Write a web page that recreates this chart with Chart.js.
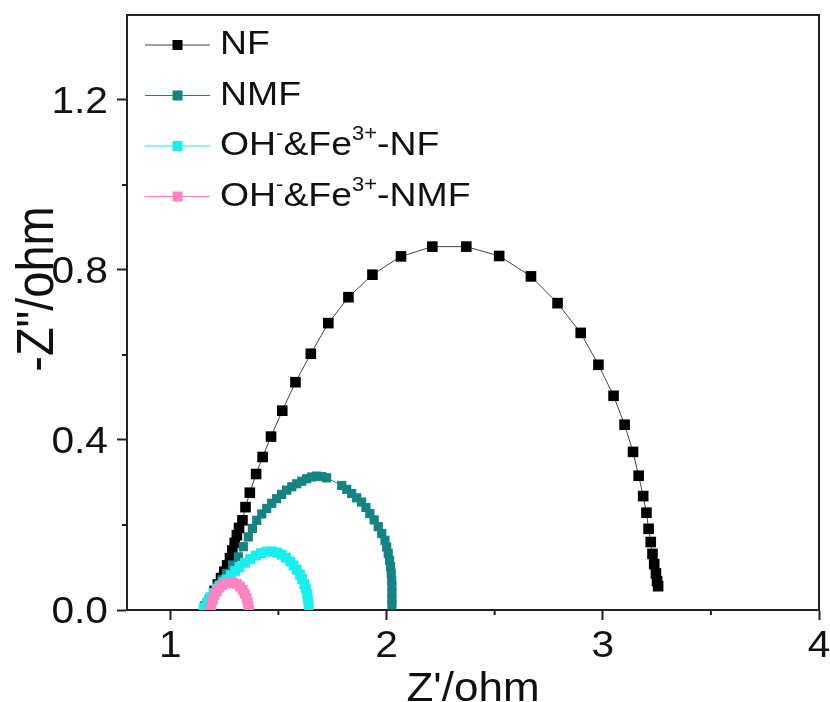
<!DOCTYPE html>
<html>
<head>
<meta charset="utf-8">
<script src="https://cdn.jsdelivr.net/npm/chart.js@4.4.1/dist/chart.umd.min.js"></script>
<style>
html, body { margin: 0; padding: 0; background: #fff; }
canvas { display: block; }
</style>
</head>
<body>
<canvas id="myChart" width="830" height="702"></canvas>
<script>
// series names and colours
var labels = ["NF", "NMF", "OH⁻&Fe³⁺-NF", "OH⁻&Fe³⁺-NMF"];
var colors = ["#000000", "#158383", "#18eeee", "#fb84c4"];
var lineColors = ["#444444", "#158383", "#18eeee", "#fb84c4"];

// NF
var nfX = [1.175, 1.19, 1.205, 1.22, 1.235, 1.25, 1.263, 1.276, 1.287, 1.298, 1.308, 1.318,
	1.334, 1.348, 1.368, 1.397, 1.427, 1.466, 1.518, 1.579, 1.650, 1.731, 1.824, 1.935, 2.067,
	2.212, 2.369, 2.521, 2.668, 2.791, 2.898, 2.980, 3.050, 3.101, 3.140, 3.166, 3.187, 3.202,
	3.212, 3.222, 3.230, 3.238, 3.246, 3.251, 3.256];
var nfY = [0.01, 0.025, 0.045, 0.06, 0.075, 0.09, 0.105, 0.122, 0.14, 0.158, 0.176, 0.193,
	0.211, 0.242, 0.276, 0.320, 0.360, 0.408, 0.469, 0.536, 0.603, 0.675, 0.736, 0.789, 0.832,
	0.855, 0.855, 0.833, 0.785, 0.722, 0.652, 0.577, 0.504, 0.436, 0.372, 0.316, 0.268, 0.229,
	0.191, 0.160, 0.132, 0.108, 0.086, 0.068, 0.056];

// NMF
var nmfX = [1.16, 1.18, 1.20, 1.22, 1.24, 1.261, 1.288, 1.315, 1.338, 1.361, 1.38, 1.400,
	1.423, 1.446, 1.469, 1.492, 1.515, 1.538, 1.562, 1.585, 1.608, 1.631, 1.654, 1.677, 1.70,
	1.723, 1.793, 1.816, 1.839, 1.862, 1.885, 1.905, 1.923, 1.943, 1.962, 1.978, 1.993, 2.001,
	2.008, 2.014, 2.019, 2.022, 2.024, 2.025, 2.025, 2.025, 2.025];
var nmfY = [0.01, 0.025, 0.04, 0.056, 0.071, 0.086, 0.106, 0.125, 0.149, 0.172, 0.192, 0.211,
	0.226, 0.239, 0.251, 0.262, 0.272, 0.282, 0.290, 0.297, 0.303, 0.309, 0.313, 0.315, 0.314,
	0.311, 0.293, 0.284, 0.274, 0.264, 0.254, 0.241, 0.227, 0.212, 0.196, 0.180, 0.164, 0.148,
	0.133, 0.117, 0.102, 0.086, 0.070, 0.055, 0.039, 0.025, 0.012];

// OH-&Fe3+-NF
var ohnfX = [1.155, 1.17, 1.185, 1.20, 1.215, 1.23, 1.245, 1.26, 1.28, 1.30, 1.32, 1.345,
	1.37, 1.395, 1.42, 1.445, 1.47, 1.495, 1.515, 1.535, 1.555, 1.57, 1.585, 1.60, 1.61, 1.62,
	1.627, 1.633, 1.637, 1.64];
var ohnfY = [0.005, 0.018, 0.03, 0.04, 0.05, 0.058, 0.065, 0.072, 0.082, 0.092, 0.101, 0.111,
	0.12, 0.128, 0.134, 0.137, 0.138, 0.135, 0.13, 0.123, 0.114, 0.105, 0.095, 0.083, 0.073,
	0.061, 0.05, 0.037, 0.024, 0.01];

// OH-&Fe3+-NMF
var ohnmfX = [1.185, 1.19, 1.197, 1.205, 1.215, 1.228, 1.242, 1.258, 1.275, 1.292, 1.308,
	1.322, 1.335, 1.345, 1.353, 1.358, 1.362, 1.364];
var ohnmfY = [0.0, 0.012, 0.024, 0.035, 0.045, 0.053, 0.059, 0.063, 0.065, 0.064, 0.061,
	0.055, 0.047, 0.038, 0.028, 0.018, 0.009, 0.0];

var xTicks = [1, 2, 3, 4];
var yTicks = [0, 0.4, 0.8, 1.2];
var xMinor = [1.5, 2.5, 3.5];
var yMinor = [0.2, 0.6, 1.0];
var xTitle = "Z'/ohm";
var yTitle = '-Z"/ohm';

var seriesX = [nfX, nmfX, ohnfX, ohnmfX];
var seriesY = [nfY, nmfY, ohnfY, ohnmfY];
var radius = [7.5, 6.5, 7, 7];

var FONT = "'Liberation Sans', Arial, sans-serif";
var STRETCH = 1.1;   // the source text is a bit wider than Arial

function toPoints(xs, ys) {
	var pts = [];
	for (var i = 0; i < xs.length; i++) {
		pts.push({x: xs[i], y: ys[i]});
	}
	return pts;
}

var datasets = [];
for (var i = 0; i < labels.length; i++) {
	datasets.push({
		label: labels[i],
		data: toPoints(seriesX[i], seriesY[i]),
		showLine: true,
		borderColor: lineColors[i],
		borderWidth: 1,
		pointStyle: 'rect',
		pointRadius: radius[i],
		pointBackgroundColor: colors[i],
		pointBorderColor: colors[i],
		pointBorderWidth: 0,
		clip: 0,
		order: labels.length - i
	});
}

function wideText(ctx, text, x, y, size, align, rot) {
	ctx.save();
	ctx.translate(x, y);
	ctx.scale(STRETCH, 1);
	if (rot) ctx.rotate(rot);
	ctx.font = size + 'px ' + FONT;
	ctx.textAlign = align;
	ctx.fillText(text, 0, 0);
	ctx.restore();
}

// frame on top and right, minor ticks, tick labels and axis titles
var axesPlugin = {
	id: 'axesText',
	afterDraw: function(chart) {
		var ctx = chart.ctx, a = chart.chartArea;
		var xs = chart.scales.x, ys = chart.scales.y;
		ctx.save();
		ctx.strokeStyle = '#222';
		ctx.lineWidth = 2;
		ctx.beginPath();
		ctx.moveTo(a.left, a.top);
		ctx.lineTo(a.right, a.top);
		ctx.lineTo(a.right, a.bottom);
		xMinor.forEach(function(v) {
			var px = xs.getPixelForValue(v);
			ctx.moveTo(px, a.bottom);
			ctx.lineTo(px, a.bottom + 5);
		});
		yMinor.forEach(function(v) {
			var py = ys.getPixelForValue(v);
			ctx.moveTo(a.left, py);
			ctx.lineTo(a.left - 5, py);
		});
		ctx.stroke();

		ctx.fillStyle = '#111';
		ctx.textBaseline = 'alphabetic';
		xTicks.forEach(function(v) {
			wideText(ctx, String(v), xs.getPixelForValue(v), a.bottom + 47, 37, 'center');
		});
		yTicks.forEach(function(v) {
			wideText(ctx, v.toFixed(1), a.left - 19, ys.getPixelForValue(v) + 13, 37, 'right');
		});
		wideText(ctx, xTitle, (a.left + a.right) / 2, 701, 40, 'center');
		ctx.textBaseline = 'middle';
		wideText(ctx, yTitle, 39, 289, 47, 'center', -Math.PI / 2);
		ctx.restore();
	}
};

// legend inside the plot, with superscripts
var supMap = {'⁻': '-', '³': '3', '⁺': '+'};
function drawLabel(ctx, text, x, y, size) {
	ctx.save();
	ctx.translate(x, y);
	ctx.scale(STRETCH, 1);
	var cx = 0, i = 0;
	while (i < text.length) {
		var sup = supMap[text[i]] !== undefined;
		var s = '';
		while (i < text.length && (supMap[text[i]] !== undefined) === sup) {
			s += sup ? supMap[text[i]] : text[i];
			i++;
		}
		if (sup) {
			ctx.font = Math.round(size * 0.6) + 'px ' + FONT;
			ctx.fillText(s, cx, -size * 0.33);
		} else {
			ctx.font = size + 'px ' + FONT;
			ctx.fillText(s, cx, 0);
		}
		cx += ctx.measureText(s).width;
	}
	ctx.restore();
}

var legendPlugin = {
	id: 'insideLegend',
	afterDraw: function(chart) {
		var ctx = chart.ctx, a = chart.chartArea;
		ctx.save();
		for (var i = 0; i < labels.length; i++) {
			var y = a.top + 30 + i * 50.5;
			var x0 = a.left + 18, x1 = a.left + 83, xm = (x0 + x1) / 2;
			ctx.strokeStyle = lineColors[i];
			ctx.lineWidth = 1;
			ctx.beginPath();
			ctx.moveTo(x0, y);
			ctx.lineTo(x1, y);
			ctx.stroke();
			ctx.fillStyle = colors[i];
			ctx.fillRect(xm - 5, y - 5, 10, 10);
			ctx.fillStyle = '#111';
			ctx.textBaseline = 'middle';
			ctx.textAlign = 'left';
			drawLabel(ctx, labels[i], a.left + 93, y, 34);
		}
		ctx.restore();
	}
};

function noPad(scale) {
	scale.paddingTop = 0;
	scale.paddingBottom = 0;
	scale.paddingLeft = 0;
	scale.paddingRight = 0;
}

var ctx = document.getElementById("myChart");
var myChart = new Chart(ctx, {
	type: 'scatter',
	data: {datasets: datasets},
	plugins: [axesPlugin, legendPlugin],
	options: {
		responsive: false,
		animation: false,
		devicePixelRatio: 1,
		layout: {padding: {top: 15, right: 11, left: 0, bottom: 0}},
		plugins: {legend: {display: false}, tooltip: {enabled: false}},
		scales: {
			x: {
				type: 'linear',
				min: 0.8,
				max: 4,
				afterBuildTicks: function(scale) {
					scale.ticks = xTicks.map(function(v) { return {value: v}; });
				},
				afterFit: function(scale) { scale.height = 92; noPad(scale); },
				grid: {drawOnChartArea: false, drawTicks: true, tickLength: 10, tickColor: '#222', tickWidth: 2},
				border: {display: true, color: '#222', width: 2},
				ticks: {display: false}
			},
			y: {
				type: 'linear',
				min: 0,
				max: 1.4,
				afterBuildTicks: function(scale) {
					scale.ticks = yTicks.map(function(v) { return {value: v}; });
				},
				afterFit: function(scale) { scale.width = 127; noPad(scale); },
				grid: {drawOnChartArea: false, drawTicks: true, tickLength: 10, tickColor: '#222', tickWidth: 2},
				border: {display: true, color: '#222', width: 2},
				ticks: {display: false}
			}
		}
	}
});
</script>
</body>
</html>
